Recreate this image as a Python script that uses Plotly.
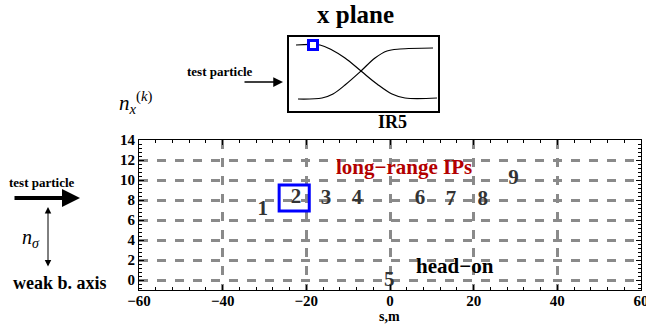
import plotly.graph_objects as go

W, H = 646, 331

# ---- data ----
ip_labels = ["1", "2", "3", "4", "5", "6", "7", "8", "9"]
ip_s = [-30.4, -22.5, -15.3, -7.9, -0.2, 7.2, 14.6, 22.2, 29.5]
ip_n = [7.0, 8.2, 8.1, 8.1, -0.1, 8.1, 8.0, 8.0, 10.1]

x_ticks = [-60, -40, -20, 0, 20, 40, 60]
y_ticks = [0, 2, 4, 6, 8, 10, 12, 14]

# inset (IR5 sketch) curves
inset_a_x = [7, 31, 43, 56, 72, 88, 103, 116, 148]
inset_a_y = [66, 66, 61, 53, 40, 27, 17, 13, 13]
inset_b_x = [9, 33, 44, 56, 72, 86, 98, 111, 144]
inset_b_y = [12, 13, 17, 26, 40, 53, 60, 62, 63]
inset_marker = ([24], [66])

highlight_box = (-26.5, -19.3, 6.9, 9.5)

FONT = "Liberation Serif, Times New Roman, Times, serif"


def px(x):
    return x / W


def py(y):
    return 1 - y / H


fig = go.Figure()

fig.add_trace(go.Scatter(
    x=ip_s, y=ip_n, mode="text", text=["<b>%s</b>" % t for t in ip_labels],
    textfont=dict(family=FONT, size=21, color="#333333"),
    textposition="middle center", xaxis="x", yaxis="y", showlegend=False,
    hoverinfo="skip"))

for xs, ys in [(inset_a_x, inset_a_y), (inset_b_x, inset_b_y)]:
    fig.add_trace(go.Scatter(
        x=xs, y=ys, mode="lines", line=dict(color="black", width=1.2, shape="spline"),
        xaxis="x2", yaxis="y2", showlegend=False, hoverinfo="skip"))

fig.add_trace(go.Scatter(
    x=inset_marker[0], y=inset_marker[1], mode="markers",
    marker=dict(symbol="square", size=9, color="white", line=dict(color="blue", width=3)),
    xaxis="x2", yaxis="y2", showlegend=False, hoverinfo="skip"))

tickfont = dict(family=FONT, size=15, color="black", weight="bold")

fig.update_layout(
    width=W, height=H, margin=dict(l=0, r=0, t=0, b=0, autoexpand=False),
    paper_bgcolor="white", plot_bgcolor="white",
    xaxis=dict(
        domain=[px(139), px(641)], range=[-60, 60],
        tickvals=x_ticks, ticks="inside", ticklen=5, tickcolor="black",
        showline=True, linecolor="black", linewidth=1.2, mirror="ticks",
        showgrid=True, gridcolor="#8a8a8a", griddash="dash", gridwidth=2.5,
        zeroline=False, tickfont=tickfont, automargin=False,
        ticklabeloverflow="allow", ticklabelstandoff=-3,
        minor=dict(dtick=4, ticks="inside", ticklen=3, tickcolor="black", showgrid=False),
        anchor="y",
    ),
    yaxis=dict(
        domain=[1 - 290 / H, 1 - 140 / H], range=[-1, 14],
        tickvals=y_ticks, ticks="inside", ticklen=5, tickcolor="black",
        showline=True, linecolor="black", linewidth=1.2, mirror="ticks",
        showgrid=True, gridcolor="#8a8a8a", griddash="dash", gridwidth=2.5,
        zeroline=False, tickfont=tickfont, ticklabelstandoff=0, automargin=False,
        minor=dict(dtick=0.4, ticks="inside", ticklen=3, tickcolor="black", showgrid=False),
        anchor="x",
    ),
    xaxis2=dict(
        domain=[px(289), px(438)], range=[0, 149], showgrid=False, zeroline=False,
        showticklabels=False, ticks="", showline=True, linecolor="black",
        linewidth=1.5, mirror=True, anchor="y2", automargin=False,
    ),
    yaxis2=dict(
        domain=[py(111), py(37)], range=[0, 74], showgrid=False, zeroline=False,
        showticklabels=False, ticks="", showline=True, linecolor="black",
        linewidth=1.5, mirror=True, anchor="x2", automargin=False,
    ),
)

x0, x1, y0, y1 = highlight_box
fig.add_shape(type="rect", xref="x", yref="y", x0=x0, x1=x1, y0=y0, y1=y1,
              line=dict(color="blue", width=3))


def ann(text, x, y, size, color="black", **kw):
    fig.add_annotation(text=text, x=px(x), y=py(y), xref="paper", yref="paper",
                       showarrow=False, xanchor="center", yanchor="middle",
                       font=dict(family=FONT, size=size, color=color), **kw)


ann("<b>x plane</b>", 355, 15, 25)
ann("<b>IR5</b>", 392, 122, 18)
ann("<b>test particle</b>", 220, 71, 13)
ann("<b>test particle</b>", 42, 182, 13)
ann("<b>weak b. axis</b>", 60, 283, 18)
ann("<i>n</i><sub><i>σ</i></sub>", 31, 238, 20)
ann("<i>n</i><sub><i>x</i></sub><sup>(<i>k</i>)</sup>", 135, 103, 21)
ann("<b>s,m</b>", 389, 316, 14)

fig.add_annotation(text="<b>long−range IPs</b>", x=3.4, y=11.3, xref="x", yref="y",
                   showarrow=False, font=dict(family=FONT, size=21, color="#b30000"))
fig.add_annotation(text="<b>head−on</b>", x=15.5, y=1.4, xref="x", yref="y",
                   showarrow=False, font=dict(family=FONT, size=21, color="black"))


def arrow(xt, yt, xh, yh, width, head=2, side="end", size=1):
    fig.add_annotation(x=px(xh), y=py(yh), xref="paper", yref="paper",
                       ax=xt - xh, ay=yt - yh, axref="pixel", ayref="pixel",
                       text="", showarrow=True, arrowhead=head, arrowwidth=width,
                       arrowsize=size, arrowcolor="black", arrowside=side)


arrow(243, 82, 283, 82, 1.5, head=2, size=1.3)
arrow(13, 198, 80, 198, 4, head=2, size=0.9)
arrow(48, 268, 48, 207, 1, head=2, side="end+start", size=1.3)

fig.write_html("out.html")
